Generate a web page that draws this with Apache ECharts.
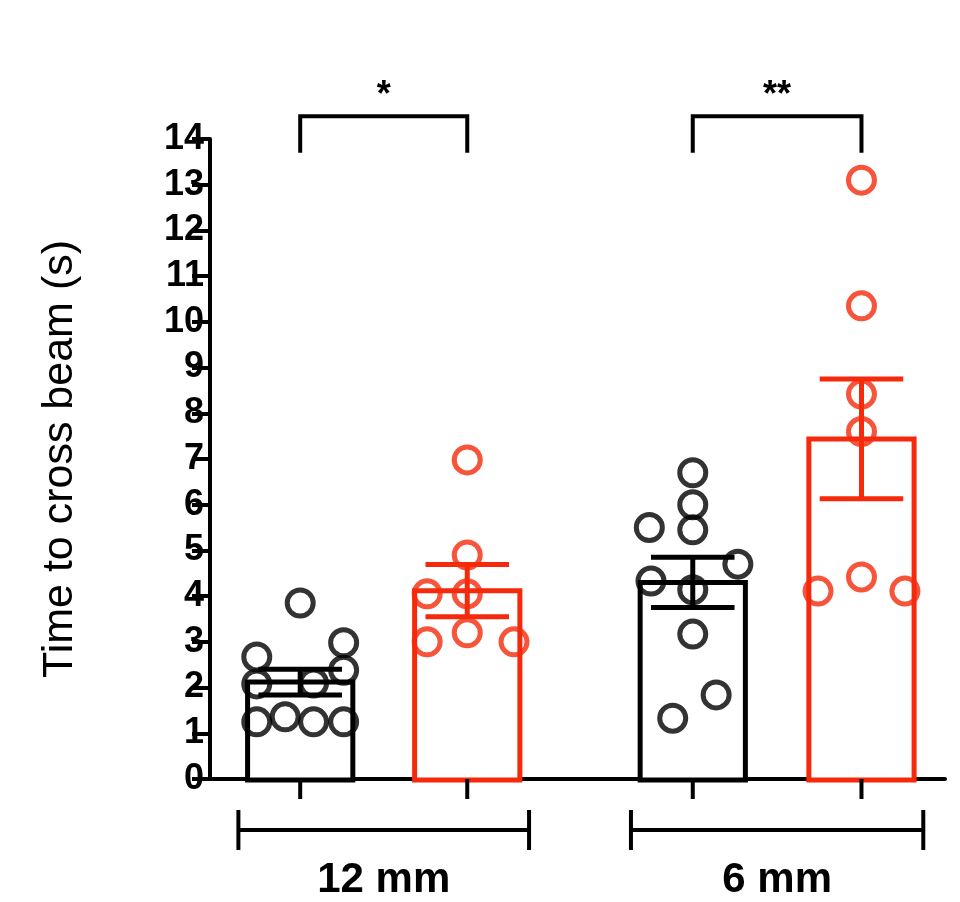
<!DOCTYPE html>
<html><head><meta charset="utf-8">
<script src="https://cdn.jsdelivr.net/npm/echarts@6/dist/echarts.min.js"></script>
<style>html,body{margin:0;background:#fff}#c{width:960px;height:902px}</style>
</head><body><div id="c"></div>
<script>
const groups = ['12 mm', '6 mm'];
const barX = [1, 2, 3.35, 4.36];
const barColors = ['#000000', '#f5290b', '#000000', '#f5290b'];
const means = [2.12, 4.12, 4.3, 7.44];
const sems = [0.28, 0.57, 0.55, 1.31];
const pts1 = [[0,3.85],[-0.26,2.67],[-0.26,2.08],[-0.26,1.25],[-0.09,1.36],[0.08,1.25],[0.26,1.25],[0.26,2.98],[0.26,2.38],[0.08,2.1]];
const pts2 = [[0,6.98],[0,4.9],[-0.24,4.05],[0,4.05],[0,3.2],[-0.24,3.0],[0.28,3.0]];
const pts3 = [[0,6.7],[0,6.0],[0,5.45],[-0.26,5.5],[0.27,4.7],[-0.25,4.33],[0,4.14],[0,3.17],[0.14,1.84],[-0.12,1.33]];
const pts4 = [[0,13.1],[0,10.35],[0,8.42],[0,7.6],[0,4.42],[-0.26,4.11],[0.26,4.11]];
const allPts = [pts1, pts2, pts3, pts4];
const sigLabels = ['*', '**'];
const yTicks = [0,1,2,3,4,5,6,7,8,9,10,11,12,13,14];

const chart = echarts.init(document.getElementById('c'));
const series = [];
series.push({
  type: 'custom', z: 1, clip: false,
  data: barX.map((x, i) => [x, means[i], i]),
  renderItem(params, api) {
    const i = api.value(2);
    const top = api.coord([api.value(0), api.value(1)]);
    const base = api.coord([api.value(0), 0]);
    const w = api.size([0.63, 0])[0];
    return { type: 'rect', shape: { x: top[0] - w / 2, y: top[1], width: w, height: base[1] - top[1] + 1 },
      style: { fill: '#fff', stroke: barColors[i], lineWidth: 5 } };
  }
});
allPts.forEach((pts, i) => {
  series.push({
    type: 'scatter', z: 3, symbol: 'circle', symbolSize: 26,
    itemStyle: { color: 'rgba(0,0,0,0)', borderColor: barColors[i], borderWidth: 5 },
    data: pts.map(p => [barX[i] + p[0], p[1]])
  });
});
series.push({
  type: 'custom', z: 5, clip: false,
  data: barX.map((x, i) => [x, means[i], sems[i], i]),
  renderItem(params, api) {
    const x = api.value(0), m = api.value(1), s = api.value(2), i = api.value(3);
    const hi = api.coord([x, m + s]), lo = api.coord([x, m - s]);
    const cw = api.size([0.5, 0])[0] / 2;
    const st = { stroke: barColors[i], lineWidth: 5, fill: null };
    return { type: 'group', children: [
      { type: 'line', shape: { x1: hi[0], y1: hi[1], x2: lo[0], y2: lo[1] }, style: st },
      { type: 'line', shape: { x1: hi[0] - cw, y1: hi[1], x2: hi[0] + cw, y2: hi[1] }, style: st },
      { type: 'line', shape: { x1: lo[0] - cw, y1: lo[1], x2: lo[0] + cw, y2: lo[1] }, style: st }
    ] };
  }
});
// annotations: significance brackets, category ticks, group lines
series.push({
  type: 'custom', z: 6, clip: false, silent: true,
  data: groups.map((g, k) => [k]),
  renderItem(params, api) {
    const k = api.value(0);
    const a = barX[2 * k], b = barX[2 * k + 1];
    const st = { stroke: '#000', lineWidth: 4, fill: null };
    const p1 = api.coord([a, 14.5]), p2 = api.coord([b, 14.5]);
    const d1 = api.coord([a, 13.7]);
    const z0 = api.coord([a, 0]);
    const tl = api.coord([a - 0.37, 0]), tr = api.coord([b + 0.37, 0]);
    const gy = z0[1] + 51;
    return { type: 'group', children: [
      { type: 'polyline', shape: { points: [[p1[0], d1[1]], [p1[0], p1[1]], [p2[0], p2[1]], [p2[0], d1[1]]] }, style: st },
      { type: 'text', style: { text: sigLabels[k], x: (p1[0] + p2[0]) / 2, y: p1[1] - 20, align: 'center', verticalAlign: 'middle', font: 'bold 36px "Liberation Sans", Arial', fill: '#000' } },
      { type: 'line', shape: { x1: p1[0], y1: z0[1], x2: p1[0], y2: z0[1] + 20 }, style: st },
      { type: 'line', shape: { x1: p2[0], y1: z0[1], x2: p2[0], y2: z0[1] + 20 }, style: st },
      { type: 'line', shape: { x1: tl[0], y1: gy, x2: tr[0], y2: gy }, style: st },
      { type: 'line', shape: { x1: tl[0], y1: gy - 20, x2: tl[0], y2: gy + 20 }, style: st },
      { type: 'line', shape: { x1: tr[0], y1: gy - 20, x2: tr[0], y2: gy + 20 }, style: st },
      { type: 'text', style: { text: groups[k], x: (tl[0] + tr[0]) / 2, y: gy + 50, align: 'center', verticalAlign: 'middle', font: 'bold 42px "Liberation Sans", Arial', fill: '#000' } }
    ] };
  }
});

chart.setOption({
  animation: false,
  grid: { left: 210, right: 15, top: 139, bottom: 123 },
  xAxis: { type: 'value', min: 0.46, max: 4.86, splitLine: { show: false },
    axisLine: { show: true, onZero: false, lineStyle: { color: '#000', width: 4 } },
    axisTick: { show: false }, axisLabel: { show: false } },
  yAxis: { type: 'value', min: 0, max: 14, interval: 1, splitLine: { show: false },
    name: 'Time to cross beam (s)', nameLocation: 'middle', nameGap: 128,
    nameTextStyle: { fontFamily: '"Liberation Sans", Arial', fontSize: 43, color: '#000' },
    axisLine: { show: true, lineStyle: { color: '#000', width: 4 } },
    axisTick: { show: true, length: 18, lineStyle: { color: '#000', width: 4 } },
    axisLabel: { fontFamily: '"Liberation Sans", Arial', fontWeight: 'bold', fontSize: 36, color: '#000', margin: 6,
      formatter: v => yTicks.includes(v) ? String(v) : '' } },
  series
});
</script></body></html>
